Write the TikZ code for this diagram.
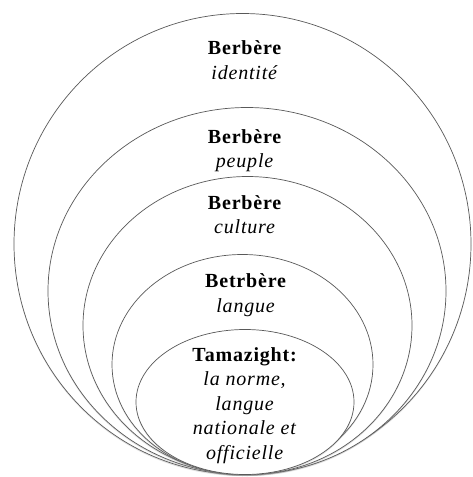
\documentclass[tikz,border=0pt]{standalone}
\usepackage{fontspec}
\setmainfont{Liberation Serif}[LetterSpace=4]
\usetikzlibrary{shapes.geometric,shadows}
\begin{document}
\begin{tikzpicture}[x=1pt,y=-1pt,
  ring/.style={ellipse, draw=black!65, line width=0.7pt, fill=white, inner sep=0pt,
    drop shadow={opacity=0.25, shadow xshift=0pt, shadow yshift=-1.5pt}},
  lbl/.style={align=center, font=\fontsize{20}{24.5}\selectfont, inner sep=0pt}]
\useasboundingbox (0,0) rectangle (472,477);
\fill[white] (0,0) rectangle (472,477);
\node[ring, minimum width=457pt, minimum height=461pt] (e1) at (242.5,244) {};
\node[ring, minimum width=398pt, minimum height=367pt] (e2) at (247,291) {};
\node[ring, minimum width=329pt, minimum height=298pt] (e3) at (247.5,325.5) {};
\node[ring, minimum width=261pt, minimum height=220pt] (e4) at (242.5,364.5) {};
\node[ring, minimum width=218pt, minimum height=145pt] (e5) at (245,402) {};
\node[lbl] (t1) at (245,60) {\textbf{Berbère}\\\textit{identité}};
\node[lbl] (t2) at (245,150.5) {\textbf{Berbère}\\\textit{peuple}};
\node[lbl] (t3) at (245,214.5) {\textbf{Berbère}\\\textit{culture}};
\node[lbl] (t4) at (246,295) {\textbf{Betrbère}\\\textit{langue}};
\node[lbl] (t5) at (245,405.5) {\textbf{Tamazight:}\\\textit{la norme,}\\\textit{langue}\\\textit{nationale et}\\\textit{officielle}};
\end{tikzpicture}
\end{document}
